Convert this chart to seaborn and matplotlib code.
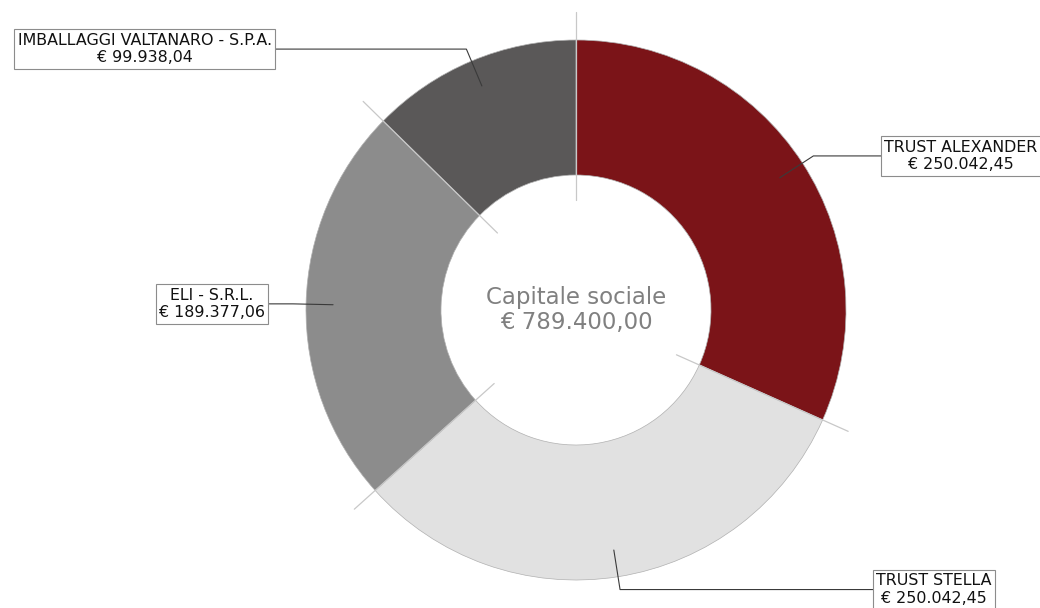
import matplotlib
matplotlib.use("Agg")
import matplotlib.pyplot as plt
import numpy as np
import seaborn as sns

# soci e quote di capitale sociale
soci = ["TRUST ALEXANDER", "TRUST STELLA", "ELI - S.R.L.", "IMBALLAGGI VALTANARO - S.P.A."]
quote = [250042.45, 250042.45, 189377.06, 99938.04]
colori = ["#7b1418", "#e1e1e1", "#8c8c8c", "#5a5858"]

# x del bordo del riquadro etichetta (pixel), nello stesso ordine dei soci
bordo_x = [881, 873, 268, 275]


def euro(v):
    s = f"{v:,.2f}".replace(",", "X").replace(".", ",").replace("X", ".")
    return "€ " + s


sns.set_theme(style="white")
plt.rcParams["font.family"] = ["DejaVu Sans"]

W, H = 1040, 608
fig = plt.figure(figsize=(W / 100, H / 100), dpi=100)
ax = fig.add_axes([0, 0, 1, 1])

cx, cy = 576, H - 310
R = 270
wedges, _ = ax.pie(quote, colors=colori, startangle=90, counterclock=False,
                   radius=R, center=(cx, cy),
                   wedgeprops=dict(width=R / 2, edgecolor="#b0b0b0", linewidth=0.5))
ax.set_xlim(0, W)
ax.set_ylim(0, H)
ax.set_aspect("equal")
ax.axis("off")

# linee di separazione tra le fette
for w in wedges:
    a = np.deg2rad(w.theta1)
    ax.plot([cx + 110 * np.cos(a), cx + 298 * np.cos(a)],
            [cy + 110 * np.sin(a), cy + 298 * np.sin(a)],
            color="#c8c8c8", lw=0.9, zorder=5)

# etichette con linee di richiamo
for w, nome, v, bx in zip(wedges, soci, quote, bordo_x):
    a = np.deg2rad((w.theta1 + w.theta2) / 2)
    x0, y0 = cx + 243 * np.cos(a), cy + 243 * np.sin(a)
    x1, y1 = cx + 283 * np.cos(a), cy + 283 * np.sin(a)
    ax.plot([x0, x1, bx], [y0, y1, y1], color="#3a3a3a", lw=0.8, zorder=6)
    destra = np.cos(a) > 0
    pad = 3.0
    ax.text(bx + pad if destra else bx - pad, y1, f"{nome}\n{euro(v)}",
            ha="left" if destra else "right", va="center", multialignment="center",
            fontsize=11.4, color="#111111", linespacing=1.2, zorder=7,
            bbox=dict(boxstyle="square,pad=0.22", fc="white", ec="#8c8c8c", lw=0.8))

ax.text(cx, cy, f"Capitale sociale\n{euro(sum(quote))}", ha="center", va="center",
        fontsize=16.5, color="#808080", linespacing=1.1)

fig.savefig("out.png", dpi=100)
